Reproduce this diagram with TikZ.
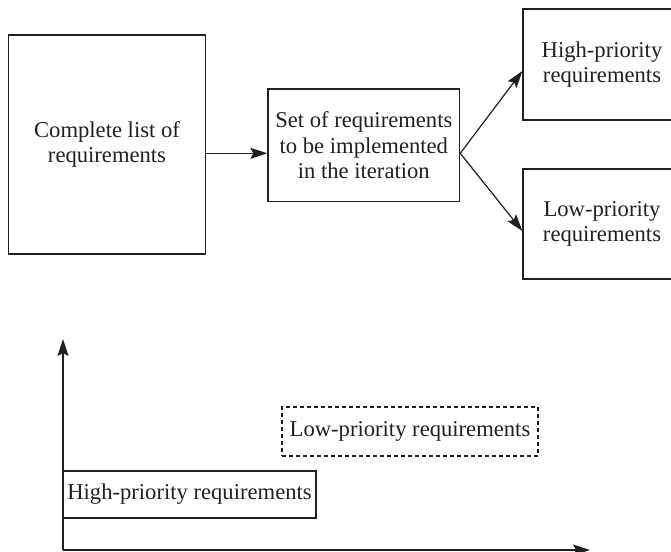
\documentclass[tikz,border=0pt]{standalone}
\usepackage{fontspec}
\setmainfont{Liberation Serif}
\usetikzlibrary{arrows.meta}
\definecolor{ink}{HTML}{231F20}
\begin{document}
\begin{tikzpicture}[x=1bp,y=-1bp,
  every node/.style={text=ink, font=\fontsize{22.7}{25.5}\selectfont},
  box/.style={draw=ink, line width=1.3bp, inner sep=0pt, align=center},
  dashbox/.style={box, line width=1.2bp, dash pattern=on 4bp off 3bp},
  arr/.style={draw=ink, line width=1.2bp, -{Stealth[length=17bp,width=11bp,inset=3bp]}}]
  \useasboundingbox (0,0) rectangle (671,552);

  % top row: requirement flow
  \node[box, minimum width=196.8bp, minimum height=219bp] (L) at (107,144.5)
    {Complete list of\\requirements};
  \node[box, minimum width=191.6bp, minimum height=112.5bp] (M) at (363.8,145.3)
    {Set of requirements\\to be implemented\\in the iteration};
  \node[box, minimum width=158bp, minimum height=111bp] (TR) at (602,64.5)
    {High-priority\\requirements};
  \node[box, minimum width=158bp, minimum height=110bp] (BR) at (602,224)
    {Low-priority\\requirements};

  \coordinate (j) at ([yshift=-8bp]M.west);
  \coordinate (k) at ([yshift=-8bp]M.east);
  \draw[arr] (j -| L.east) -- (j);
  \draw[arr] (k) -- ([yshift=-6.5bp]TR.west);
  \draw[arr] (k) -- ([yshift=-7bp]BR.west);

  % bottom: priority axes
  \coordinate (O) at (63,550);
  \coordinate (Ytip) at (63,339);
  \coordinate (Xtip) at (590,550);
  \draw[arr] (O) -- (Ytip);
  \draw[arr] (O) -- (Xtip);

  \node[box, minimum width=253bp, minimum height=47bp] (HP) at (189.5,494.5)
    {High-priority requirements};
  \node[dashbox, minimum width=256bp, minimum height=49bp] (LP) at (410,431.5)
    {Low-priority requirements};
\end{tikzpicture}
\end{document}
